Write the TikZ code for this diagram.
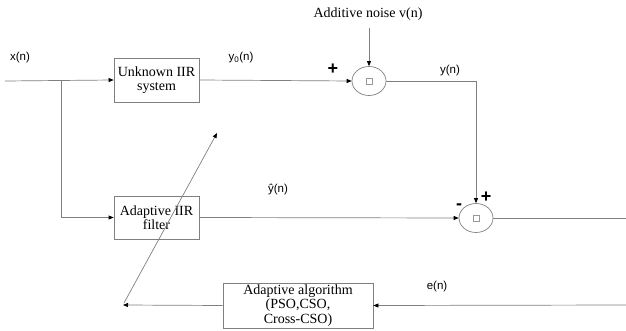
\documentclass[tikz,border=0pt]{standalone}
\usepackage{fontspec}
\setmainfont{Liberation Serif}
\newfontfamily\sigfont{Liberation Sans}
\usetikzlibrary{arrows.meta,shapes.geometric}
\begin{document}
\begin{tikzpicture}[x=1pt,y=-1pt,
  line/.style={draw=black!50,line width=0.7pt},
  arr/.style={line,-{Triangle[length=5pt,width=4pt,color=black]}},
  blk/.style={draw=black!50,line width=0.7pt,rectangle,align=center,inner sep=0pt,font=\fontsize{14}{14.5}\selectfont},
  sumnode/.style={draw=black!50,line width=0.7pt,ellipse,minimum width=34pt,minimum height=29pt,inner sep=0pt},
  sig/.style={font=\sigfont\fontsize{11.5}{13}\selectfont},
  sgn/.style={font=\sigfont\bfseries\fontsize{18}{18}\selectfont}]
\useasboundingbox (0,0) rectangle (626,331);
% blocks
\node[blk,minimum width=85pt,minimum height=44pt] (unk) at (156.5,80) {Unknown IIR\\system};
\node[blk,minimum width=85pt,minimum height=43pt] (adf) at (156.5,217.5) {Adaptive IIR\\filter};
\node[blk,minimum width=150pt,minimum height=45pt] (alg) at (298,305.5) {Adaptive algorithm\\(PSO,CSO,\\Cross-CSO)};
\node[sumnode] (s1) at (369,81) {};
\node[sumnode] (s2) at (476,218) {};
\node[draw=black!40,line width=0.5pt,minimum size=6pt,inner sep=0pt] (q1) at (s1) {};
\node[draw=black!40,line width=0.5pt,minimum size=6pt,inner sep=0pt] (q2) at (s2) {};
% coordinates
\coordinate (in) at (5,81);
\coordinate (br) at (61,81);
\coordinate (brd) at (61,217.5);
\coordinate (nz) at (369,28);
\coordinate (yc) at (476,81);
\coordinate (out) at (626,218);
\coordinate (er) at (626,305);
\coordinate (fb) at (123,305);
\coordinate (d0) at (124,303);
\coordinate (d1) at (217,133);
\coordinate (t0) at (624,299);
\coordinate (t1) at (624,304);
% connectors
\draw[arr] (in) -- (unk.west);
\draw[arr] (br) -- (brd) -- (adf.west);
\draw[arr] (unk.east) -- (s1.west);
\draw[arr] (nz) -- (s1.north);
\draw[arr] (s1.east) -- (yc) -- (s2.north);
\draw[arr] (adf.east) -- (s2.west);
\draw[line] (s2.east) -- (out);
\draw[arr] (er) -- (alg.east);
\draw[arr] (alg.west) -- (fb);
\draw[arr] (d0) -- (d1);
\draw[-{Triangle[length=4pt,width=4pt,color=black]},draw=none] (t0) -- (t1);
% labels
\node[sig] (lx) at (20,58) {x(n)};
\node[sig] (ly0) at (241,58) {y\textsubscript{0}(n)};
\node[sgn] (p1) at (333,69) {+};
\node[font=\fontsize{14}{14.5}\selectfont] (lnz) at (368,14) {Additive noise v(n)};
\node[sig] (ly) at (450,71) {y(n)};
\node[sig] (lyh) at (278,190) {ŷ(n)};
\node[sgn] (p2) at (486,197) {+};
\node[sgn] (m2) at (459,207) {-};
\node[sig] (le) at (437,287) {e(n)};
\end{tikzpicture}
\end{document}
